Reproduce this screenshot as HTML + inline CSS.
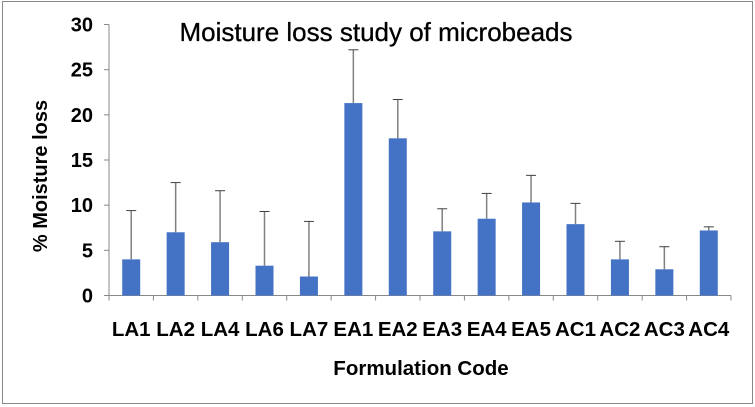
<!DOCTYPE html>
<html><head><meta charset="utf-8"><style>
html,body{margin:0;padding:0;background:#fff;}
svg{display:block;font-family:"Liberation Sans",Arial,sans-serif;}
</style></head><body>
<svg id="chart" width="755" height="407">
<rect x="2.5" y="1.5" width="750" height="402" fill="#fff" stroke="#888" stroke-width="1"/>
<text x="376" y="41" text-anchor="middle" font-size="26" fill="#000" stroke="#000" stroke-width="0.3">Moisture loss study of microbeads</text>
<text transform="translate(47,176) rotate(-90)" text-anchor="middle" font-size="20" font-weight="bold">% Moisture loss</text>
<text x="421" y="375" text-anchor="middle" font-size="20.5" font-weight="bold">Formulation Code</text>
<g id="plot"></g>
</svg>
<script>
const categories=["LA1","LA2","LA4","LA6","LA7","EA1","EA2","EA3","EA4","EA5","AC1","AC2","AC3","AC4"];
const values=[4.0,7.0,5.9,3.3,2.1,21.3,17.4,7.1,8.5,10.3,7.9,4.0,2.9,7.2];
const errorTops=[9.4,12.5,11.6,9.3,8.2,27.2,21.7,9.6,11.3,13.3,10.2,6.0,5.4,7.6];
const yTicks=[0,5,10,15,20,25,30];
const NS="http://www.w3.org/2000/svg";
const g=document.getElementById('plot');
const x0=109,x1=731,y0=295.5,y1=24.5,ymax=30;
const step=(x1-x0)/categories.length;
const Y=v=>y0-(v/ymax)*(y0-y1);
const X=i=>x0+step*(i+0.5);
function mk(tag,a){const e=document.createElementNS(NS,tag);for(const k in a)e.setAttribute(k,a[k]);g.appendChild(e);return e;}
let e;
e=mk('line',{x1:x0,y1:y1,x2:x0,y2:y0,stroke:'#888','stroke-width':1});


e=mk('line',{x1:x0,y1:y0,x2:x1,y2:y0,stroke:'#888','stroke-width':1});


yTicks.forEach(t=>{
  e=mk('line',{x1:x0-5,y1:Y(t),x2:x0,y2:Y(t),stroke:'#888'});
  
  
  e=mk('text',{x:x0-16,y:Y(t)+7,'text-anchor':'end','font-size':20,'font-weight':'bold'});
  e.textContent=t;
  
  
});
for(let i=0;i<=categories.length;i++){
  e=mk('line',{x1:x0+step*i,y1:y0,x2:x0+step*i,y2:y0+5,stroke:'#888'});
  
  
}
categories.forEach((c,i)=>{
  const cx=X(i),bw=18;
  e=mk('line',{x1:cx,y1:Y(values[i]),x2:cx,y2:Y(errorTops[i]),stroke:'#808080','stroke-width':1.5});
  
  
  e=mk('line',{x1:cx-5,y1:Y(errorTops[i]),x2:cx+5,y2:Y(errorTops[i]),stroke:'#404040','stroke-width':1});
  
  
  e=mk('rect',{x:cx-bw/2,y:Y(values[i]),width:bw,height:y0-Y(values[i]),fill:'#4472C4'});
  
  
  e=mk('text',{x:cx,y:336,'text-anchor':'middle','font-size':20.5,'font-weight':'bold'});
  e.textContent=c;
  
  
});
</script>
</body></html>
